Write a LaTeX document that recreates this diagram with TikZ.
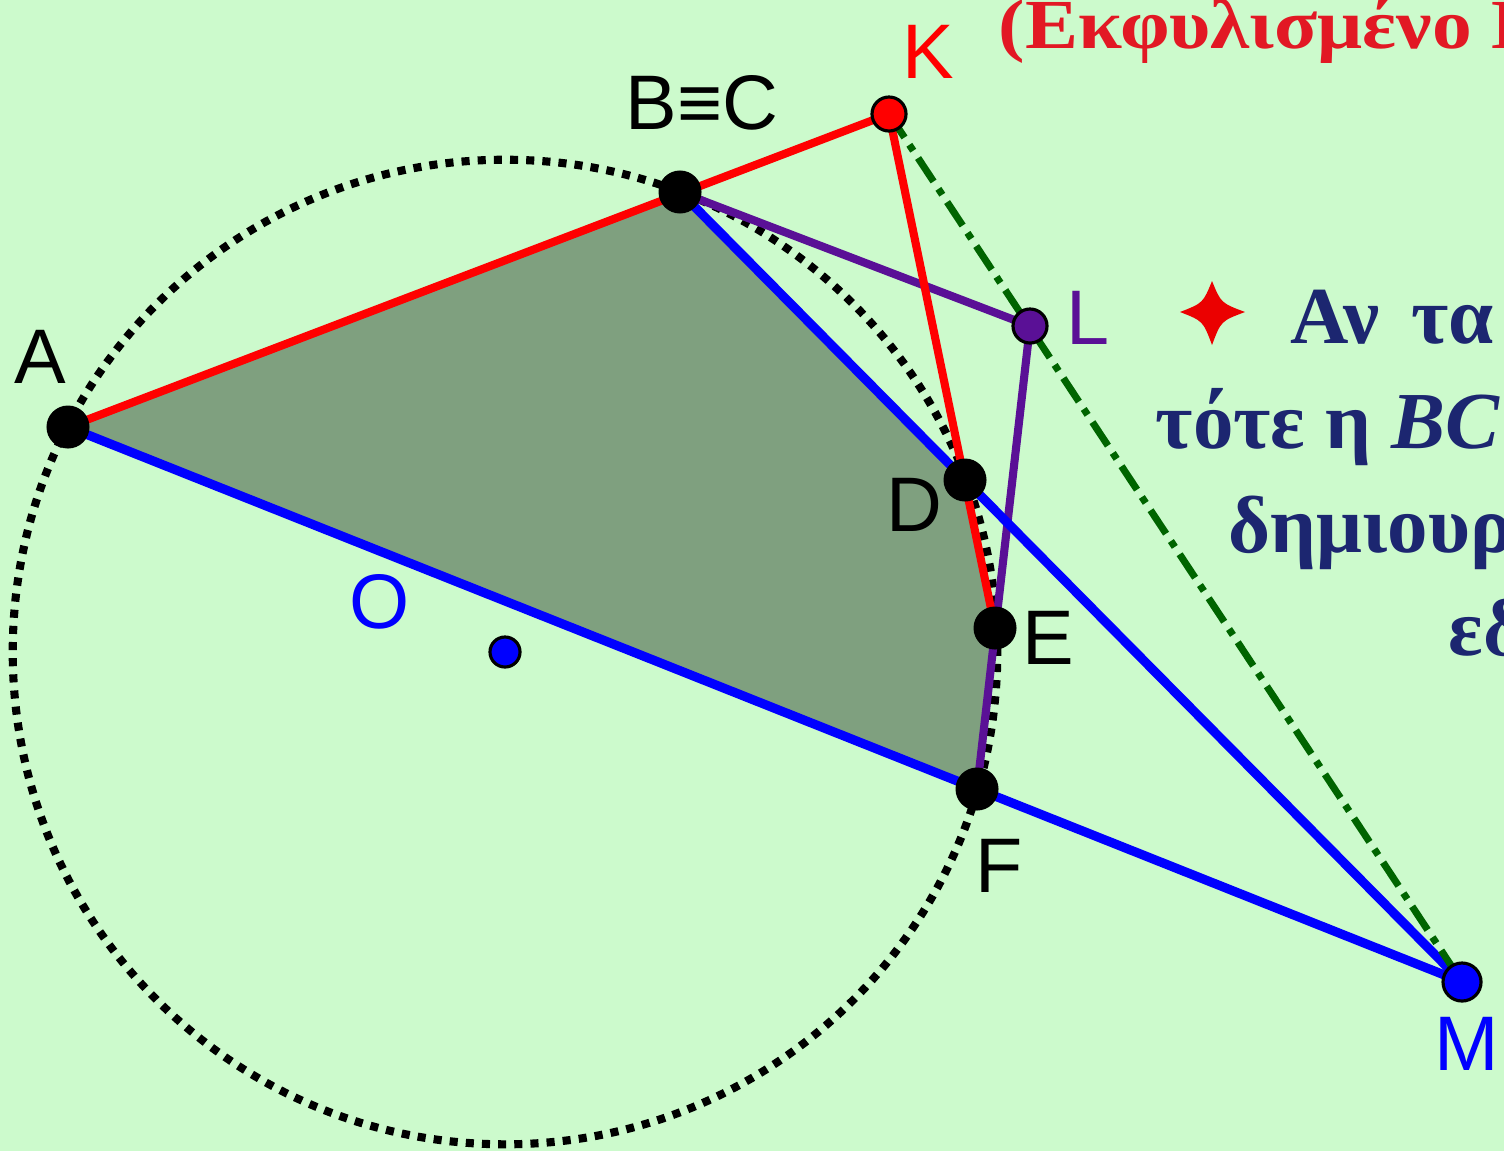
\documentclass[tikz,border=0pt]{standalone}
\usepackage{fontspec}
\setmainfont{Liberation Serif}
\newfontfamily\labelfont{Liberation Sans}
\newfontfamily\titlefont[FakeStretch=1.13]{Liberation Serif}
\usetikzlibrary{positioning}
\definecolor{bggreen}{RGB}{204,250,204}
\definecolor{fillgreen}{RGB}{127,160,127}
\definecolor{pascalred}{RGB}{255,0,0}
\definecolor{pascalblue}{RGB}{0,0,255}
\definecolor{pascalpurple}{RGB}{90,16,150}
\definecolor{pascalgreen}{RGB}{0,100,0}
\definecolor{textnavy}{RGB}{28,38,112}
\definecolor{titlered}{RGB}{226,24,36}

\begin{document}
\begin{tikzpicture}[x=0.01cm, y=-0.01cm,
    font=\labelfont\fontsize{22}{26}\selectfont,
    bigpt/.style={circle, fill=black, inner sep=0pt, minimum size=0.43cm},
    smallpt/.style={circle, draw=black, line width=0.9pt, inner sep=0pt, minimum size=0.34cm},
    redline/.style={pascalred, line width=2.3pt},
    blueline/.style={pascalblue, line width=2.6pt},
    purpleline/.style={pascalpurple, line width=2.3pt},
    greekline/.style={anchor=base west, inner sep=0pt, textnavy, font=\rmfamily\bfseries\fontsize{23}{26}\selectfont}]
  \useasboundingbox (0,0) rectangle (1504,1151);
  \clip (0,0) rectangle (1504,1151);
  \fill[bggreen] (0,0) rectangle (1504,1151);

  % points of the figure
  \coordinate (A) at (68,427);
  \coordinate (B) at (680,192);
  \coordinate (K) at (889,114);
  \coordinate (L) at (1030,326);
  \coordinate (D) at (965,480);
  \coordinate (E) at (995,628);
  \coordinate (F) at (977,789);
  \coordinate (M) at (1462,982);
  \coordinate (O) at (505,652);

  \fill[fillgreen] (A) -- (B) -- (D) -- (E) -- (F) -- cycle;
  \draw[black, line width=2.3pt, dash pattern=on 2.3pt off 2.3pt] (O) circle (4.92cm);

  \draw[purpleline] (B) -- (L) -- (F);
  \draw[blueline] (A) -- (M);
  \draw[blueline] (B) -- (M);
  \draw[redline] (A) -- (K) -- (E);
  \draw[pascalgreen, line width=2pt, dash pattern=on 8pt off 2.5pt on 2pt off 2.5pt] (K) -- (M);

  \foreach \p in {A,B,D,E,F}
    \node[bigpt] (dot\p) at (\p) {};
  \node[smallpt, fill=pascalred] (dotK) at (K) {};
  \node[smallpt, fill=pascalpurple] (dotL) at (L) {};
  \node[smallpt, fill=pascalblue, minimum size=0.38cm] (dotM) at (M) {};
  \node[smallpt, fill=pascalblue, minimum size=0.3cm] (dotO) at (O) {};

  % labels
  \node (labA) at (40,357) {A};
  \node (labB) at (702,103) {B≡C};
  \node[pascalred] (labK) at (928,52) {K};
  \node[pascalpurple] (labL) at (1088,318) {L};
  \node (labD) at (914,505) {D};
  \node (labE) at (1048,638) {E};
  \node (labF) at (999,866) {F};
  \node[pascalblue] (labO) at (380,602) {O};
  \node[pascalblue] (labM) at (1467,1044) {M};

  % text on the right
  \node[anchor=base west, inner sep=0pt, titlered, font=\titlefont\bfseries\fontsize{20}{24}\selectfont]
    (title) at (998,48) {(Εκφυλισμένο Ε};
  \fill[pascalred!92!black] (1212,281) .. controls (1221,303) .. (1245,312)
    .. controls (1221,321) .. (1212,345) .. controls (1203,321) .. (1180,312)
    .. controls (1203,303) .. (1212,281) -- cycle;
  \node[greekline] (txtA) at (1290,343) {Αν\hspace{0.15em} τα};
  \node[greekline] (txtB) at (1155,448) {τότε η \textit{BC}};
  \node[greekline] (txtC) at (1228,552) {δημιουρ};
  \node[greekline] (txtD) at (1448,655) {εδ};
\end{tikzpicture}
\end{document}
